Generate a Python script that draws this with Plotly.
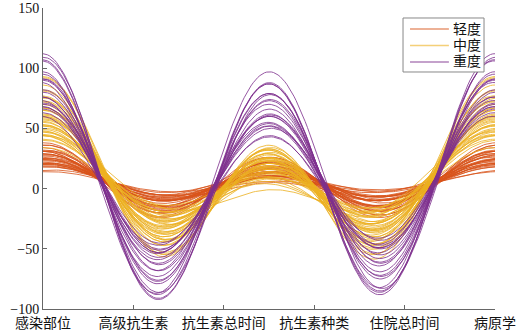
import numpy as np
import plotly.graph_objects as go

# Variable (column) names, shown as x tick labels
var_names = ["感染部位", "高级抗生素", "抗生素总时间", "抗生素种类", "住院总时间", "病原学"]
tick_pos = [0, 0.2, 0.4, 0.6, 0.8, 1.0]
group_names = ["轻度", "中度", "重度"]
group_colors = ["#D95319", "#EDB120", "#7E2F8E"]

# ---- 轻度 (mild) observations ----
mild_site = [5.7, 7.1, 5.7, 4.2, 7.1, 5.7, 4.2, 7.1, 5.7, 7.1, 4.2, 5.7, 8.5, 5.7, 7.1, 4.2, 5.7, 7.1, 5.7, 8.5,
             4.2, 7.1, 5.7, 7.1, 5.7, 8.5, 4.2, 7.1, 5.7, 7.1, 5.7, 7.1]
mild_adv = [0, -1, 1, 0, -2, 1, 0, 0, -1, 1, 0, -1, 0, 1, 0, -1, 0, 1, -1, 0,
            1, 0, -1, 0, 1, 0, 0, -1, 0, 1, 0, 0]
mild_time = [6, 5, 7, 4, 6, 5, 8, 4, 6, 5, 7, 3, 5, 6, 4, 7, 5, 6, 4, 5,
             6, 3, 5, 6, 4, 5, 7, 4, 5, 6, 4, 3]
mild_kind = [1, 1, 2, 1, 1, 2, 1, 0, 2, 1, 1, 2, 1, 0, 1, 2, 1, 1, 2, 1,
             0, 1, 2, 1, 1, 0, 1, 2, 1, 1, 1, 1]
mild_stay = [28, 26, 25, 24, 23, 22, 21, 20, 19, 18, 18, 17, 16, 16, 15, 15, 14, 14, 13, 13,
             12, 12, 11, 11, 10, 10, 9, 9, 22, 20, 6, 7]
mild_path = [0, 1, 0, -1, 0, 1, 0, 0, -1, 0, 1, 0, 0, -1, 0, 1, 0, 0, -1, 0,
             1, 0, 0, -1, 0, 1, 0, 0, -1, 0, 0, 1]

# ---- 中度 (moderate) observations ----
mod_site = [5.7, 5.7, 4.2, 7.1, 5.7, 5.7, 4.2, 7.1, 5.7, 5.7,
            4.2, 7.1, 5.7, 5.7, 4.2, 7.1, 5.7, 5.7, 4.2, 7.1,
            5.7, 5.7, 4.2, 7.1, 5.7, 5.7, 4.2, 7.1, 5.7, 5.7,
            4.2, 7.1, 5.7, 5.7, 4.2, 5.7, 7.1, 5.7, 5.7, 4.2]
mod_adv = [1, 0, -1, 1, 0, 2, 0, -1, 1, 0, 1, 0, -1, 0, 1, 0, 2, 0, -1, 1,
           0, 1, 0, -1, 0, 1, 0, 0, -1, 0, 1, 0, 0, 1, 0, -1, 0, 0, 1, 0]
mod_time = [28, 26, 25, 24, 22, 23, 20, 22, 19, 21, 18, 20, 17, 19, 16, 18, 21, 15, 17, 20,
            14, 18, 16, 19, 13, 17, 22, 15, 18, 14, 20, 16, 24, 15, 26, 23, 30, 28, 12, 25]
mod_kind = [0, 1, 0, 0, -1, 0, 1, 0, 0, -1, 0, 1, 0, 0, -1, 0, 1, 0, 0, 0,
            1, 0, -1, 0, 0, 1, 0, 0, 0, 1, 0, 0, 0, 0, 0, 1, 0, 0, 0, 0]
mod_stay = [60, 56, 54, 52, 50, 48, 47, 45, 44, 42, 41, 40, 39, 38, 37, 36, 35, 34, 33, 32,
            31, 30, 29, 28, 27, 26, 25, 24, 23, 22, 21, 20, 19, 36, 44, 38, 58, 45, 18, 30]
mod_path = [0, -1, 1, 0, 0, 1, -1, 0, 0, 1, 0, -1, 0, 1, 0, 0, -1, 0, 1, 0,
            0, -1, 0, 1, 0, 0, 1, -1, 0, 0, 1, 0, -1, 0, 0, 1, 0, -1, 0, 0]

# ---- 重度 (severe) observations ----
sev_site = [7.1, 7.1, 7.1, 5.7, 8.5, 7.1, 7.1, 5.7, 7.1, 8.5, 7.1, 7.1, 5.7, 7.1, 7.1, 8.5, 7.1, 7.1, 5.7, 7.1,
            7.1, 8.5]
sev_adv = [-2, -2, -1, -3, -2, -2, -1, -2, -3, -2, -2, -1, -2, -3, -2, -2, -1, -2, -2, -3, -2, -1]
sev_time = [12, 11, 10, 14, 0, 8, 6, 9, 7, 12, 5, 10, 8, 6, 11, 4, 9, 7, 12, 5, 10, 8]
sev_kind = [0, 1, -1, 0, 0, 0, 1, 0, -1, 0, 0, 1, 0, 0, -1, 0, 0, 1, 0, 0, 0, 0]
sev_stay = [95, 93, 92, 88, 91, 82, 80, 78, 76, 72, 70, 67, 64, 62, 60, 58, 56, 54, 52, 50, 48, 57]
sev_path = [0, 1, 0, -1, 0, 0, 1, 0, -1, 0, 1, 0, 0, -1, 0, 0, 1, 0, 0, -1, 0, 1]

groups = [
    (mild_site, mild_adv, mild_time, mild_kind, mild_stay, mild_path),
    (mod_site, mod_adv, mod_time, mod_kind, mod_stay, mod_path),
    (sev_site, sev_adv, sev_time, sev_kind, sev_stay, sev_path),
]

t = np.linspace(0, 1, 201)
basis = np.vstack([
    np.full_like(t, 1 / np.sqrt(2)),
    np.sin(2 * np.pi * t),
    np.cos(2 * np.pi * t),
    np.sin(4 * np.pi * t),
    np.cos(4 * np.pi * t),
    np.sin(6 * np.pi * t),
])

fig = go.Figure()
for gname, color, cols in zip(group_names, group_colors, groups):
    X = np.array(cols, dtype=float).T  # observations x variables
    for row in X:
        y = row @ basis
        fig.add_trace(go.Scatter(
            x=t, y=y, mode="lines",
            line=dict(color=color, width=1),
            opacity=0.8,
            name=gname, legendgroup=gname, showlegend=False,
            hoverinfo="skip",
        ))

font_family = "Liberation Serif, Noto Sans CJK SC, serif"
axis_color = "#666666"

# Boxed legend in the upper right (paper coordinates)
shapes = [dict(type="rect", xref="paper", yref="paper", x0=0.7965, x1=0.9757, y0=0.7874, y1=0.9668,
               line=dict(color="#888888", width=1), fillcolor="white", layer="above")]
annotations = []
legend_rows = [0.9302, 0.8754, 0.8206]
for gname, color, yy in zip(group_names, group_colors, legend_rows):
    shapes.append(dict(type="line", xref="paper", yref="paper", x0=0.812, x1=0.898, y0=yy, y1=yy,
                       line=dict(color=color, width=1.5), opacity=0.6, layer="above"))
    annotations.append(dict(xref="paper", yref="paper", x=0.903, y=yy, text=gname, showarrow=False,
                            xanchor="left", yanchor="middle",
                            font=dict(family=font_family, size=14, color="#111111")))

fig.update_layout(
    width=519, height=330,
    margin=dict(l=43, r=24, t=8, b=21, autoexpand=False),
    paper_bgcolor="white", plot_bgcolor="white",
    font=dict(family=font_family, size=14, color="#111111"),
    showlegend=False,
    shapes=shapes, annotations=annotations,
    xaxis=dict(
        range=[0, 1], tickvals=tick_pos, ticktext=var_names,
        showline=True, linecolor=axis_color, linewidth=1,
        ticks="inside", ticklen=4, tickcolor=axis_color,
        showgrid=False, zeroline=False, mirror=False, automargin=False,
        ticklabelstandoff=1,
        tickfont=dict(family=font_family, size=14, color="#111111"),
    ),
    yaxis=dict(
        range=[-100, 150], tickvals=[-100, -50, 0, 50, 100, 150],
        showline=True, linecolor=axis_color, linewidth=1,
        ticks="inside", ticklen=4, tickcolor=axis_color,
        showgrid=False, zeroline=False, mirror=False, automargin=False,
        tickfont=dict(family=font_family, size=14, color="#111111"),
    ),
)

fig.write_html("out.html", config={"displayModeBar": False},
               post_script="document.body.style.margin='0';document.body.style.overflow='hidden';")
